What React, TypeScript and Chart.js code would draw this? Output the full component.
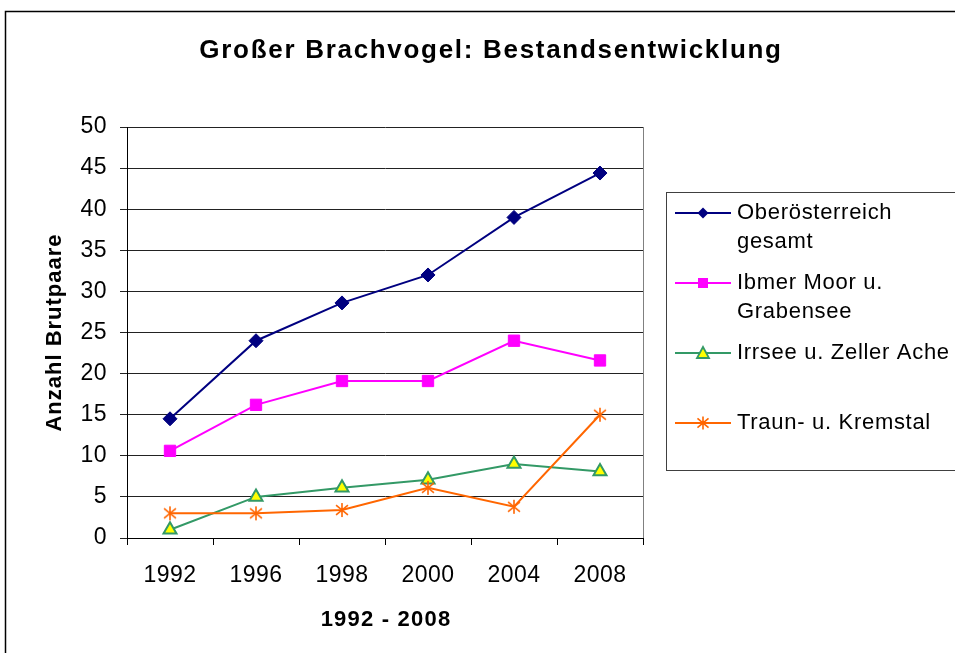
import React, { useEffect, useRef } from 'react';
import { Chart, registerables } from 'chart.js';

Chart.register(...registerables);

const years = ['1992', '1996', '1998', '2000', '2004', '2008'];
const oberoesterreich = [14.5, 24, 28.6, 32, 39, 44.4];
const ibmerMoor = [10.6, 16.2, 19.1, 19.1, 24, 21.6];
const irrsee = [1, 5, 6.1, 7.1, 9, 8.1];
const traun = [3, 3, 3.4, 6.1, 3.8, 15];

const seriesLabels = [
  ['Oberösterreich', 'gesamt'],
  ['Ibmer Moor u.', 'Grabensee'],
  ['Irrsee u. Zeller Ache'],
  ['Traun- u. Kremstal'],
];
const seriesColors = ['#000080', '#FF00FF', '#339966', '#FF6600'];
const yMin = 0;
const yMax = 50;
const yStep = 5;

const chartTitle = 'Großer Brachvogel: Bestandsentwicklung';
const yTitle = 'Anzahl Brutpaare';
const xTitle = '1992 - 2008';

const FONT = "'Liberation Sans', Arial, sans-serif";

function drawStar(g: CanvasRenderingContext2D, x: number, y: number, r: number, color: string) {
  g.save();
  g.strokeStyle = color;
  g.lineWidth = 1.6;
  g.beginPath();
  g.moveTo(x, y - r);
  g.lineTo(x, y + r);
  g.moveTo(x - r * 0.85, y - r * 0.7);
  g.lineTo(x + r * 0.85, y + r * 0.7);
  g.moveTo(x + r * 0.85, y - r * 0.7);
  g.lineTo(x - r * 0.85, y + r * 0.7);
  g.stroke();
  g.restore();
}

function makeStarImage(color: string) {
  const c = document.createElement('canvas');
  c.width = 16;
  c.height = 16;
  const g = c.getContext('2d')!;
  drawStar(g, 8, 8, 7, color);
  return c;
}

function drawLegendMarker(g: CanvasRenderingContext2D, i: number, x: number, y: number) {
  g.save();
  if (i === 0) {
    g.fillStyle = seriesColors[0];
    g.beginPath();
    g.moveTo(x, y - 5.5);
    g.lineTo(x + 5.5, y);
    g.lineTo(x, y + 5.5);
    g.lineTo(x - 5.5, y);
    g.closePath();
    g.fill();
  } else if (i === 1) {
    g.fillStyle = seriesColors[1];
    g.fillRect(x - 5, y - 5, 10, 10);
  } else if (i === 2) {
    g.fillStyle = '#FFFF00';
    g.strokeStyle = seriesColors[2];
    g.lineWidth = 1.8;
    g.beginPath();
    g.moveTo(x, y - 6);
    g.lineTo(x + 6, y + 5);
    g.lineTo(x - 6, y + 5);
    g.closePath();
    g.fill();
    g.stroke();
  } else {
    drawStar(g, x, y, 6.5, seriesColors[3]);
  }
  g.restore();
}

const decorPlugin = {
  id: 'decor',
  beforeDraw(chart: any) {
    const ctx = chart.ctx as CanvasRenderingContext2D;
    ctx.save();
    ctx.fillStyle = '#ffffff';
    ctx.fillRect(0, 0, chart.width, chart.height);
    ctx.restore();
    (ctx as any).letterSpacing = '0.4px';
  },
  afterDraw(chart: any) {
    const ctx = chart.ctx as CanvasRenderingContext2D;
    const a = chart.chartArea;
    ctx.save();
    // plot area right border
    ctx.strokeStyle = '#808080';
    ctx.lineWidth = 1;
    ctx.beginPath();
    ctx.moveTo(Math.round(a.right) + 0.5, a.top);
    ctx.lineTo(Math.round(a.right) + 0.5, a.bottom);
    ctx.stroke();

    // outer chart border
    ctx.strokeStyle = '#000000';
    ctx.lineWidth = 1.5;
    ctx.strokeRect(5.5, 11.5, chart.width + 10, chart.height + 10);

    // title
    ctx.fillStyle = '#000000';
    ctx.font = `bold 26px ${FONT}`;
    (ctx as any).letterSpacing = '1.7px';
    ctx.textAlign = 'center';
    ctx.textBaseline = 'alphabetic';
    ctx.fillText(chartTitle, 491, 58);

    // x axis title
    ctx.font = `bold 22px ${FONT}`;
    (ctx as any).letterSpacing = '1.2px';
    ctx.fillText(xTitle, (a.left + a.right) / 2 + 1, 626);

    // y axis title
    ctx.save();
    ctx.translate(61, (a.top + a.bottom) / 2);
    ctx.rotate(-Math.PI / 2);
    (ctx as any).letterSpacing = '1px';
    ctx.fillText(yTitle, 0, 0);
    ctx.restore();

    // legend box
    ctx.strokeStyle = '#404040';
    ctx.lineWidth = 1;
    ctx.strokeRect(666.5, 192.5, 400, 278);

    const rows = [213, 283, 353, 423];
    ctx.font = `22px ${FONT}`;
    (ctx as any).letterSpacing = '0.7px';
    ctx.textAlign = 'left';
    ctx.textBaseline = 'middle';
    seriesLabels.forEach((lines, i) => {
      const y = rows[i];
      ctx.strokeStyle = seriesColors[i];
      ctx.lineWidth = 2;
      ctx.beginPath();
      ctx.moveTo(675, y);
      ctx.lineTo(731, y);
      ctx.stroke();
      drawLegendMarker(ctx, i, 703, y);
      ctx.fillStyle = '#000000';
      lines.forEach((t, j) => ctx.fillText(t, 737, y + j * 29));
    });
    ctx.restore();
  },
};

export default function App() {
  const ref = useRef<HTMLCanvasElement>(null);

  useEffect(() => {
    const canvas = ref.current!;
    const star = makeStarImage(seriesColors[3]);
    const chart = new Chart(canvas, {
      type: 'line',
      data: {
        labels: years,
        datasets: [
          {
            label: seriesLabels[0].join(' '),
            data: oberoesterreich,
            borderColor: seriesColors[0],
            backgroundColor: seriesColors[0],
            borderWidth: 2,
            pointStyle: 'rectRot',
            pointRadius: 7,
            pointBorderWidth: 1,
            order: 3,
          },
          {
            label: seriesLabels[1].join(' '),
            data: ibmerMoor,
            borderColor: seriesColors[1],
            backgroundColor: seriesColors[1],
            borderWidth: 2,
            pointStyle: 'rect',
            pointRadius: 8,
            pointBorderWidth: 1,
            order: 2,
          },
          {
            label: seriesLabels[2].join(' '),
            data: irrsee,
            borderColor: seriesColors[2],
            backgroundColor: '#FFFF00',
            borderWidth: 2,
            pointStyle: 'triangle',
            pointRadius: 7.5,
            pointBorderWidth: 2,
            pointBorderColor: seriesColors[2],
            pointBackgroundColor: '#FFFF00',
            order: 1,
          },
          {
            label: seriesLabels[3].join(' '),
            data: traun,
            borderColor: seriesColors[3],
            backgroundColor: seriesColors[3],
            borderWidth: 2,
            pointStyle: star as any,
            pointRadius: 7,
            order: 0,
          },
        ],
      },
      options: {
        animation: false,
        responsive: false,
        events: [],
        layout: { padding: { left: 0, top: 127, right: 312, bottom: 0 } },
        plugins: {
          legend: { display: false },
          title: { display: false },
          tooltip: { enabled: false },
        },
        elements: { line: { tension: 0 } },
        scales: {
          x: {
            type: 'category',
            offset: true,
            grid: {
              offset: true,
              drawOnChartArea: false,
              drawTicks: true,
              tickLength: 7,
              color: '#000000',
            },
            border: { color: '#000000', width: 1 },
            ticks: {
              color: '#000000',
              font: { family: FONT, size: 23 },
              padding: 17,
              maxRotation: 0,
            },
            afterFit: (s: any) => {
              s.height = 115;
            },
          },
          y: {
            min: yMin,
            max: yMax,
            ticks: {
              stepSize: yStep,
              color: '#000000',
              font: { family: FONT, size: 23 },
              padding: 13,
            },
            grid: {
              color: '#222222',
              tickLength: 7,
              drawTicks: true,
            },
            border: { color: '#000000', width: 1 },
            afterFit: (s: any) => {
              s.width = 127;
            },
          },
        },
      },
      plugins: [decorPlugin],
    });
    return () => chart.destroy();
  }, []);

  return (
    <div style={{ position: 'absolute', left: 0, top: 0, width: 955, height: 653 }}>
      <canvas ref={ref} width={955} height={653} style={{ display: 'block' }} />
    </div>
  );
}
